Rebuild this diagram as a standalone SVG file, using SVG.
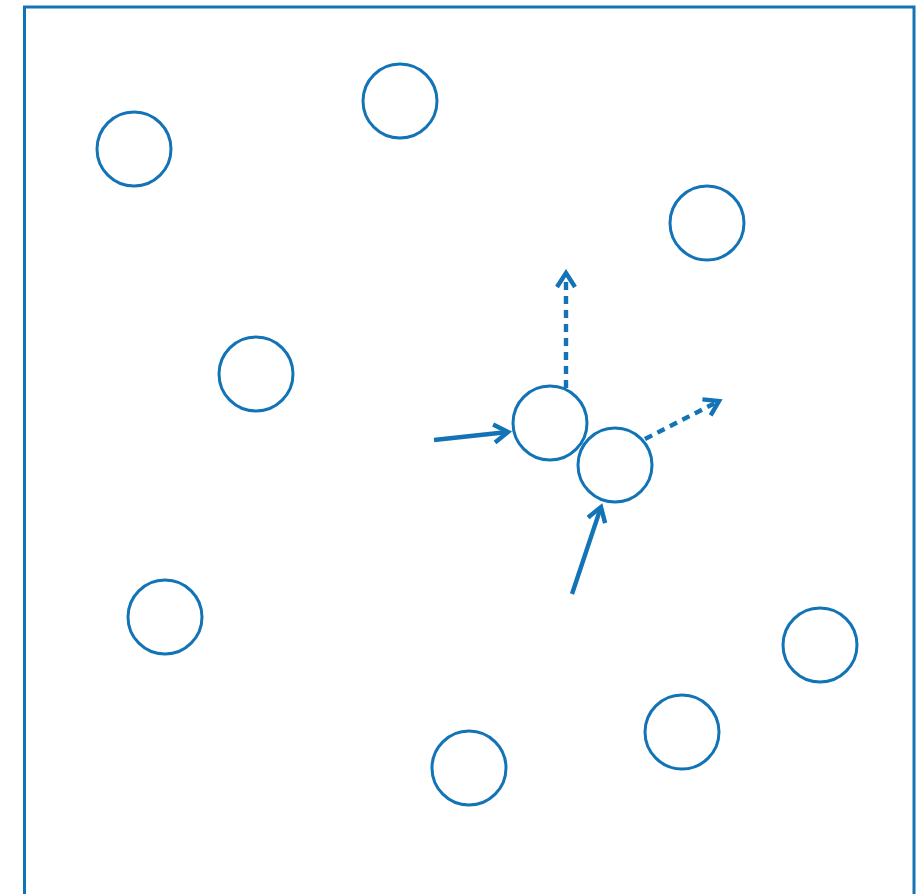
<svg xmlns="http://www.w3.org/2000/svg" width="924" height="894" viewBox="0 0 924 894">
<style>
.frame{fill:none;stroke:#1273b6;stroke-width:3}
.node{fill:none;stroke:#1273b6;stroke-width:3}
.conn{fill:none;stroke:#1273b6;stroke-width:4.4}
.dash{stroke-dasharray:8 6}
</style>
<defs>
<marker id="arr" markerUnits="userSpaceOnUse" viewBox="-18 -12 22 24" refX="0" refY="0" markerWidth="22" markerHeight="24" orient="auto">
<path d="M-14,-9 L0,0 L-14,9" fill="none" stroke="#1273b6" stroke-width="4.4" stroke-linecap="butt" stroke-linejoin="miter" stroke-dasharray="none"/>
</marker>
</defs>
<rect class="frame" x="24.5" y="7" width="889.5" height="900"/>
<g id="n1"><circle class="node" cx="134" cy="149" r="37"/></g>
<g id="n2"><circle class="node" cx="400" cy="101" r="37"/></g>
<g id="n3"><circle class="node" cx="707" cy="223" r="37"/></g>
<g id="n4"><circle class="node" cx="256" cy="374" r="37"/></g>
<g id="n5"><circle class="node" cx="550" cy="423" r="37"/></g>
<g id="n6"><circle class="node" cx="615" cy="465" r="37"/></g>
<g id="n7"><circle class="node" cx="165" cy="617" r="37"/></g>
<g id="n8"><circle class="node" cx="820" cy="645" r="37"/></g>
<g id="n9"><circle class="node" cx="682" cy="732" r="37"/></g>
<g id="n10"><circle class="node" cx="469" cy="768" r="37"/></g>
<g id="connectors">
<path class="conn dash" d="M566,388 L566,273" marker-end="url(#arr)"/>
<path class="conn dash" d="M645,439 L719,401" marker-end="url(#arr)"/>
<path class="conn" d="M434,440 L508,432" marker-end="url(#arr)"/>
<path class="conn" d="M572,594 L601,507" marker-end="url(#arr)"/>
</g>
</svg>
